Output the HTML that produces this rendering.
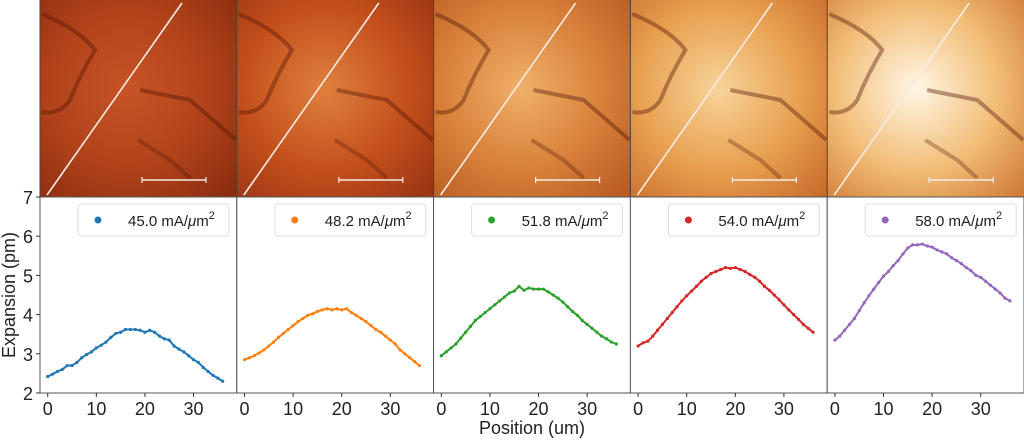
<!DOCTYPE html>
<html><head><meta charset="utf-8"><style>
html,body{margin:0;padding:0;background:#fff;}
svg{display:block;font-family:"Liberation Sans",sans-serif;}
</style></head><body>
<svg id="c" width="1024" height="440" viewBox="0 0 1024 440"></svg>
<script>
const xs = [0,1,2,3,4,5,6,7,8,9,10,11,12,13,14,15,16,17,18,19,20,21,22,23,24,25,26,27,28,29,30,31,32,33,34,35,36];
const labels = ["45.0","48.2","51.8","54.0","58.0"];
const colors = ["#1f77b4","#ff7f0e","#2ca02c","#d62728","#9467bd"];
const s1 = [2.42,2.48,2.55,2.6,2.7,2.7,2.78,2.9,2.98,3.05,3.15,3.22,3.3,3.42,3.52,3.55,3.62,3.62,3.62,3.6,3.55,3.6,3.55,3.45,3.38,3.35,3.2,3.12,3.05,2.95,2.85,2.78,2.65,2.55,2.45,2.38,2.3];
const s2 = [2.85,2.9,2.95,3.02,3.1,3.2,3.3,3.42,3.52,3.62,3.72,3.82,3.9,3.98,4.02,4.08,4.12,4.15,4.12,4.15,4.12,4.15,4.05,3.98,3.9,3.82,3.72,3.62,3.55,3.45,3.35,3.25,3.1,3.0,2.9,2.8,2.7];
const s3 = [2.95,3.05,3.15,3.25,3.4,3.55,3.7,3.85,3.95,4.05,4.15,4.25,4.35,4.45,4.55,4.6,4.72,4.62,4.68,4.65,4.65,4.65,4.58,4.5,4.42,4.32,4.2,4.08,3.98,3.85,3.75,3.65,3.55,3.45,3.38,3.3,3.25];
const s4 = [3.2,3.28,3.32,3.45,3.6,3.75,3.9,4.05,4.2,4.35,4.48,4.6,4.72,4.85,4.95,5.05,5.1,5.15,5.2,5.18,5.2,5.15,5.1,5.02,4.95,4.85,4.72,4.62,4.5,4.38,4.25,4.12,4.0,3.88,3.75,3.65,3.55];
const s5 = [3.35,3.45,3.6,3.75,3.9,4.1,4.3,4.48,4.65,4.82,4.98,5.1,5.25,5.38,5.55,5.7,5.78,5.78,5.8,5.75,5.72,5.65,5.6,5.55,5.45,5.38,5.3,5.2,5.12,5.0,4.95,4.85,4.75,4.65,4.55,4.42,4.35];
const series = [s1,s2,s3,s4,s5];
const yTicks = [2,3,4,5,6,7];
const xTicks = [0,10,20,30];
const imgColors = [["#c85426","#b0421a","#8a2c10"],["#e0803e","#c4501c","#9a3414"],["#f0b068","#d8803a","#b85a22"],["#f8d49a","#e8a050","#c86c2c"],["#fff6e4","#f2be78","#d07c38"]];

const svg=document.getElementById('c');const NS="http://www.w3.org/2000/svg";
function mk(t,a,p){const e=document.createElementNS(NS,t);for(const k in a)e.setAttribute(k,a[k]);(p||svg).appendChild(e);return e;}
const L=40,PW=196.8,TOP=197,BOT=393;
function yS(v){return BOT-(v-2)/5*(BOT-TOP);}
function xS(i,v){return L+i*PW+7+(v+0.15)*4.86;}
const defs=mk('defs',{});
for(let i=0;i<5;i++){
  const px=L+i*PW;
  const g=mk('radialGradient',{id:'rg'+i,cx:'0.45',cy:'0.45',r:'0.75'},defs);
  mk('stop',{offset:'0','stop-color':imgColors[i][0]},g);
  mk('stop',{offset:'0.55','stop-color':imgColors[i][1]},g);
  mk('stop',{offset:'1','stop-color':imgColors[i][2]},g);
  const im=mk('g',{});
  
  
  mk('rect',{x:px,y:0,width:PW,height:TOP,fill:'url(#rg'+i+')'},im);
  mk('path',{d:`M${px+2},${14} Q${px+40},${30} ${px+55},${50} Q${px+40},${75} ${px+30},${100} Q${px+20},${115} ${px+2},${112}`,stroke:'rgba(80,20,5,0.4)','stroke-width':4,fill:'none'},im);
  mk('path',{d:`M${px+100},${90} L${px+150},${100} L${px+196},${140}`,stroke:'rgba(80,20,5,0.4)','stroke-width':4,fill:'none'},im);
  mk('path',{d:`M${px+98},${140} L${px+130},${160} L${px+150},${178}`,stroke:'rgba(80,20,5,0.3)','stroke-width':4,fill:'none'},im);
  mk('line',{x1:px+7,y1:195,x2:px+142,y2:3,stroke:'#f4ece4','stroke-width':1.6},im);
  mk('line',{x1:px+102,y1:180,x2:px+166,y2:180,stroke:'#f4ece4','stroke-width':1.6},im);
  mk('line',{x1:px+102,y1:177,x2:px+102,y2:183,stroke:'#f4ece4','stroke-width':1.2},im);
  mk('line',{x1:px+166,y1:177,x2:px+166,y2:183,stroke:'#f4ece4','stroke-width':1.2},im);
  mk('line',{x1:px,y1:0,x2:px,y2:TOP,stroke:'#444','stroke-width':1},im);

  const pl=mk('g',{});
  
  
  mk('rect',{x:px,y:TOP,width:PW,height:BOT-TOP,fill:'#fff',stroke:'#555','stroke-width':1},pl);
  series[i].forEach((v,j)=>{
    const c=mk('circle',{cx:xS(i,xs[j]),cy:yS(v),r:1.6,fill:colors[i]},pl);
    
    
  });
  const pts=series[i].map((v,j)=>xS(i,xs[j])+','+yS(v)).join(' ');
  const pln=mk('polyline',{points:pts,fill:'none',stroke:colors[i],'stroke-width':2},pl);
  
  
  xTicks.forEach(t=>{
    mk('line',{x1:xS(i,t),y1:BOT,x2:xS(i,t),y2:BOT+4,stroke:'#333'},pl);
    const tx=mk('text',{x:xS(i,t),y:BOT+22,'font-size':18,'text-anchor':'middle',fill:'#222'},pl);
    tx.textContent=t;
    
    
  });
  const lg=mk('g',{},pl);
  
  
  mk('rect',{x:px+38,y:204,width:151,height:32,rx:3,fill:'#fff',stroke:'#ddd'},lg);
  mk('circle',{cx:px+58,cy:220,r:3.5,fill:colors[i]},lg);
  const lt=mk('text',{x:px+88,y:226,'font-size':15,fill:'#222'},lg);
  lt.innerHTML=labels[i]+' mA/<tspan font-style="italic">μ</tspan>m<tspan dy="-7" font-size="11">2</tspan>';
}
yTicks.forEach(t=>{
  mk('line',{x1:L-4,y1:yS(t),x2:L,y2:yS(t),stroke:'#333'});
  const tx=mk('text',{x:L-7,y:yS(t)+7,'font-size':18,'text-anchor':'end',fill:'#222'});
  tx.textContent=t;
  
  
});
const yl=mk('text',{x:15,y:295,'font-size':18,'text-anchor':'middle',fill:'#222',transform:'rotate(-90 15 295)'});
yl.textContent='Expansion (pm)';


const xl=mk('text',{x:532,y:434,'font-size':18,'text-anchor':'middle',fill:'#222'});
xl.textContent='Position (um)';


</script>
</body></html>
